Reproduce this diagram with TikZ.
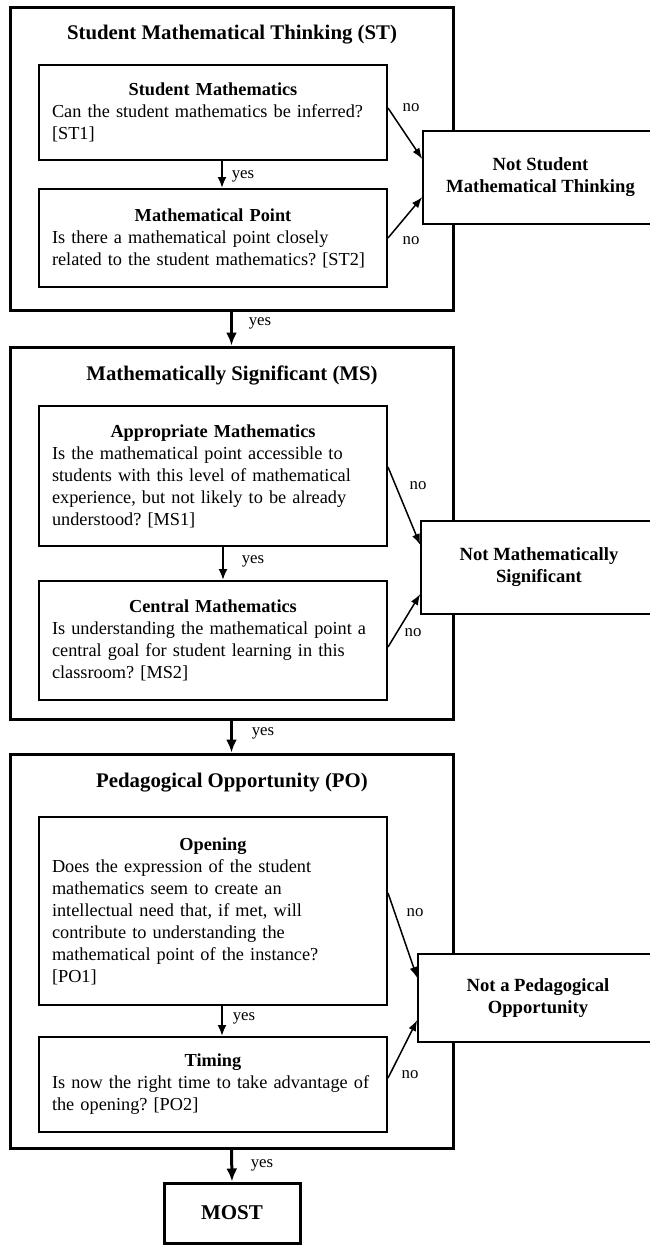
\documentclass[tikz,border=0pt]{standalone}
\usepackage{fontspec}
\setmainfont{Liberation Serif}
\usepackage{tikz}
\usetikzlibrary{calc}
\usetikzlibrary{arrows.meta}
\frenchspacing
\tikzstyle{phasenode} = [draw, rectangle, line width=3pt, minimum width=443pt]
\tikzstyle{phasetitle} = [font=\bfseries\fontsize{20.8}{25}\selectfont]
\tikzstyle{questionnode} = [draw, rectangle, line width=2pt, fill=white, minimum width=348pt, text width=322pt, inner xsep=13pt, inner ysep=0pt, align=left, font=\fontsize{18.3}{22}\selectfont]
\tikzstyle{outcomenode} = [draw, rectangle, line width=1.5pt, fill=white, align=center, font=\bfseries\fontsize{18.6}{22}\selectfont]
\tikzstyle{mostnode} = [draw, rectangle, line width=3pt, minimum width=136pt, minimum height=60pt, font=\bfseries\fontsize{21}{25}\selectfont]
\tikzstyle{passarrow} = [-{Latex[length=13pt,width=11pt]}, line width=3pt]
\tikzstyle{yesarrow} = [-{Latex[length=11pt,width=9pt]}, line width=2pt]
\tikzstyle{noarrow} = [-{Latex[length=11pt,width=8pt]}, line width=1.5pt]
\tikzstyle{answer} = [font=\fontsize{16.8}{20}\selectfont]
\newcommand{\qhead}[1]{{\centering\textbf{#1}\par}}

\begin{document}
\begin{tikzpicture}[x=1pt, y=-1pt]
\useasboundingbox (0,0) rectangle (650,1245);

% Student Mathematical Thinking
\node[phasenode, minimum height=303pt] (st_box) at (231.5,158.5) {};
\node[phasetitle] (st_title) at (232,35) {Student Mathematical Thinking (ST)};
\node[questionnode, minimum height=95pt] (st_sm) at (213,112.5) {\qhead{Student Mathematics}
    Can the student mathematics be inferred?\\ {[ST1]}};
\node[questionnode, minimum height=98pt] (st_mp) at (213,238) {\qhead{Mathematical Point}
    Is there a mathematical point closely\\ related to the student mathematics? [ST2]};
\node[outcomenode, minimum width=235pt, minimum height=93pt] (st_not) at (540.5,177.5) {Not Student\\ Mathematical Thinking};
\draw[yesarrow] ([xshift=9pt]st_sm.south) -- ([xshift=9pt]st_mp.north);
\node[answer] (st_yes) at (243,176) {yes};
\draw[noarrow] ([yshift=4.5pt]st_sm.east) -- ([yshift=18.5pt]st_not.west);
\draw[noarrow] (st_mp.east) -- ([yshift=-19.5pt]st_not.west);
\node[answer] (st_no1) at (411,108) {no};
\node[answer] (st_no2) at (411,241) {no};

% Mathematically Significant
\node[phasenode, minimum height=372pt] (ms_box) at (231.5,533) {};
\node[phasetitle] (ms_title) at (232,375) {Mathematically Significant (MS)};
\node[questionnode, minimum height=140pt] (ms_am) at (213,476) {\qhead{Appropriate Mathematics}
    Is the mathematical point accessible to\\ students with this level of mathematical\\
    experience, but not likely to be already\\ understood? [MS1]};
\node[questionnode, minimum height=119pt] (ms_cm) at (213,640.5) {\qhead{Central Mathematics}
    Is understanding the mathematical point a\\ central goal for student learning in this\\
    classroom? [MS2]};
\node[outcomenode, minimum width=236pt, minimum height=93pt] (ms_not) at (539,567.5) {Not Mathematically\\ Significant};
\draw[yesarrow] ([xshift=10pt]ms_am.south) -- ([xshift=10pt]ms_cm.north);
\node[answer] (ms_yes) at (253,561) {yes};
\draw[noarrow] ([yshift=9pt]ms_am.east) -- ([yshift=22.5pt]ms_not.west);
\draw[noarrow] ([yshift=-6.5pt]ms_cm.east) -- ([yshift=-26.5pt]ms_not.west);
\node[answer] (ms_no1) at (418,486) {no};
\node[answer] (ms_no2) at (413,633) {no};

% Pedagogical Opportunity
\node[phasenode, minimum height=394pt] (po_box) at (231.5,951) {};
\node[phasetitle] (po_title) at (232,783) {Pedagogical Opportunity (PO)};
\node[questionnode, minimum height=188pt] (po_op) at (213,911) {\qhead{Opening}
    Does the expression of the student\\ mathematics seem to create an\\
    intellectual need that, if met, will\\ contribute to understanding the\\
    mathematical point of the instance?\\ {[PO1]}};
\node[questionnode, minimum height=95pt] (po_tm) at (213,1084.5) {\qhead{Timing}
    Is now the right time to take advantage of\\ the opening? [PO2]};
\node[outcomenode, minimum width=240pt, minimum height=88pt] (po_not) at (538,998) {Not a Pedagogical\\ Opportunity};
\draw[yesarrow] ([xshift=9pt]po_op.south) -- ([xshift=9pt]po_tm.north);
\node[answer] (po_yes) at (244,1018) {yes};
\draw[noarrow] ([yshift=18pt]po_op.east) -- ([yshift=20pt]po_not.west);
\draw[noarrow] ([yshift=6.5pt]po_tm.east) -- ([yshift=-22pt]po_not.west);
\node[answer] (po_no1) at (415,913) {no};
\node[answer] (po_no2) at (410,1075) {no};

% MOST
\node[mostnode] (most) at (232,1213) {MOST};

\draw[passarrow] (st_box.south) -- (ms_box.north);
\node[answer] (st_pass) at (260,323) {yes};
\draw[passarrow] (ms_box.south) -- (po_box.north);
\node[answer] (ms_pass) at (263,733) {yes};
\draw[passarrow] (po_box.south) -- (most.north);
\node[answer] (po_pass) at (262,1165) {yes};
\end{tikzpicture}
\end{document}
